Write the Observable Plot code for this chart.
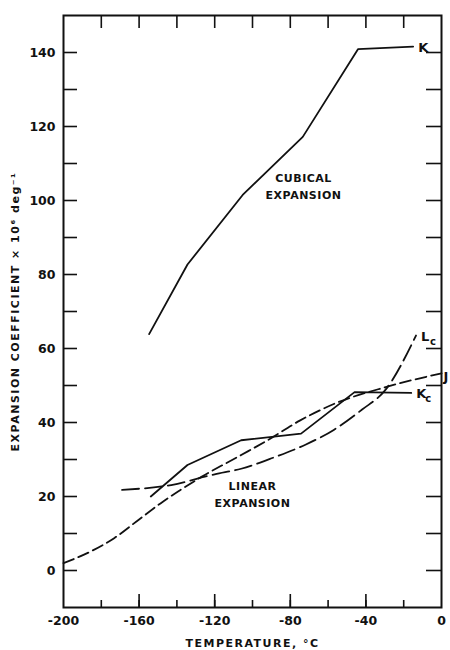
<!DOCTYPE html>
<html><head><meta charset="utf-8">
<script src="https://cdn.jsdelivr.net/npm/d3@7"></script>
<script src="https://cdn.jsdelivr.net/npm/@observablehq/plot@0.6"></script>
<style>body{margin:0;background:#fff}</style>
</head><body><div id="chart"></div>
<script>
// Cubical expansion, K (solid)
const kTemp = [-154.7, -134.4, -105.2, -73.4, -44.2, -15];
const kVal  = [63.9, 82.7, 101.5, 117.2, 140.9, 141.6];
// Linear expansion, Kc (solid)
const kcTemp = [-153.8, -134.4, -106, -74.3, -46, -16];
const kcVal  = [20, 28.5, 35.2, 37, 48.2, 48];
// Linear expansion, Lc (long dashes)
const lcTemp = [-169, -143, -120, -106, -89, -72, -57, -42, -30, -13.5];
const lcVal  = [21.8, 23.1, 26, 27.5, 30.5, 34, 38, 43.5, 48.6, 63.5];
// Linear expansion, J (short dashes)
const jTemp = [-200, -185, -173, -160, -148.5, -127, -106, -92, -75, -57, -30, 0];
const jVal  = [2.0, 5.3, 8.8, 13.8, 18.2, 25.3, 31.2, 35.2, 40.5, 45, 49.5, 53.3];

const xTicks = [-200, -160, -120, -80, -40, 0];
const yTicks = [0, 20, 40, 60, 80, 100, 120, 140];

const toRows = (xs, ys) => xs.map((x, i) => ({x, y: ys[i]}));
const K = toRows(kTemp, kVal), KC = toRows(kcTemp, kcVal), LC = toRows(lcTemp, lcVal), J = toRows(jTemp, jVal);
const last = a => a[a.length - 1];

const labels = [
  {...last(K), t: "K"},
  {...last(LC), t: "L"},
  {...last(KC), t: "K"},
  {...last(J), t: "J"}
];
const subs = [
  {...last(LC), t: "c"},
  {...last(KC), t: "c"}
];
const notes = [
  {x: -73, y: 106, t: "CUBICAL"},
  {x: -73, y: 101.4, t: "EXPANSION"},
  {x: -100, y: 22.8, t: "LINEAR"},
  {x: -100, y: 18.2, t: "EXPANSION"}
];

const chart = Plot.plot({
  width: 450, height: 650,
  marginLeft: 63, marginRight: 9, marginTop: 15, marginBottom: 43,
  style: {fontFamily: "DejaVu Sans", fontSize: "12px", fontWeight: "bold", background: "#fff", color: "#111"},
  x: {domain: [-200, 0]},
  y: {domain: [-10, 150]},
  marks: [
    Plot.axisX(xTicks, {anchor: "bottom", tickSize: 0, tickPadding: 9, tickFormat: d => String(d),
      label: "TEMPERATURE, °C", labelAnchor: "center", labelOffset: 39, labelArrow: "none", fontSize: 12.5}),
    Plot.axisX(d3.range(-180, 0, 20), {anchor: "bottom", tickSize: -7, text: null, label: null, strokeWidth: 1.6}),
    Plot.axisX(d3.range(-160, 0, 40), {anchor: "bottom", tickSize: -13, text: null, label: null, strokeWidth: 1.6}),
    Plot.axisX(d3.range(-180, 0, 20), {anchor: "top", tickSize: -12, text: null, label: null, strokeWidth: 1.6}),
    Plot.axisY(yTicks, {anchor: "left", tickSize: 0, tickPadding: 8,
      label: "EXPANSION COEFFICIENT × 10⁶ deg⁻¹", labelAnchor: "center", labelOffset: 52, labelArrow: "none", fontSize: 12.5}),
    Plot.axisY(d3.range(0, 141, 10), {anchor: "left", tickSize: -14, text: null, label: null, strokeWidth: 1.6}),
    Plot.axisY(d3.range(0, 141, 10), {anchor: "right", tickSize: -16, text: null, label: null, strokeWidth: 1.6}),
    Plot.frame({stroke: "#111", strokeWidth: 2}),
    Plot.line(K, {x: "x", y: "y", stroke: "#111", strokeWidth: 1.8}),
    Plot.line(KC, {x: "x", y: "y", stroke: "#111", strokeWidth: 1.8}),
    Plot.line(LC, {x: "x", y: "y", stroke: "#111", strokeWidth: 1.8, strokeDasharray: "17,6", curve: "monotone-x"}),
    Plot.line(J, {x: "x", y: "y", stroke: "#111", strokeWidth: 1.8, strokeDasharray: "11,5", curve: "monotone-x"}),
    Plot.text(labels.slice(0, 3), {x: "x", y: "y", text: "t", textAnchor: "start", fontSize: 13, fill: "#111", dx: 5, dy: 1}),
    Plot.text(labels.slice(3), {x: "x", y: "y", text: "t", textAnchor: "start", fontSize: 13, fill: "#111", dx: 2, dy: 4}),
    Plot.text(subs, {x: "x", y: "y", text: "t", textAnchor: "start", fontSize: 10, fill: "#111", dx: 14, dy: 6}),
    Plot.text(notes, {x: "x", y: "y", text: "t", fontSize: 11, fill: "#111"})
  ]
});
document.getElementById("chart").appendChild(chart);
const svg = d3.select(chart);
svg.selectAll('[aria-label="x-axis label"] text, [aria-label="y-axis label"] text').style("letter-spacing", "1.5px").style("font-size", "11px");
svg.selectAll('[aria-label="text"] text').style("letter-spacing", "0.5px");
</script>
</body></html>
